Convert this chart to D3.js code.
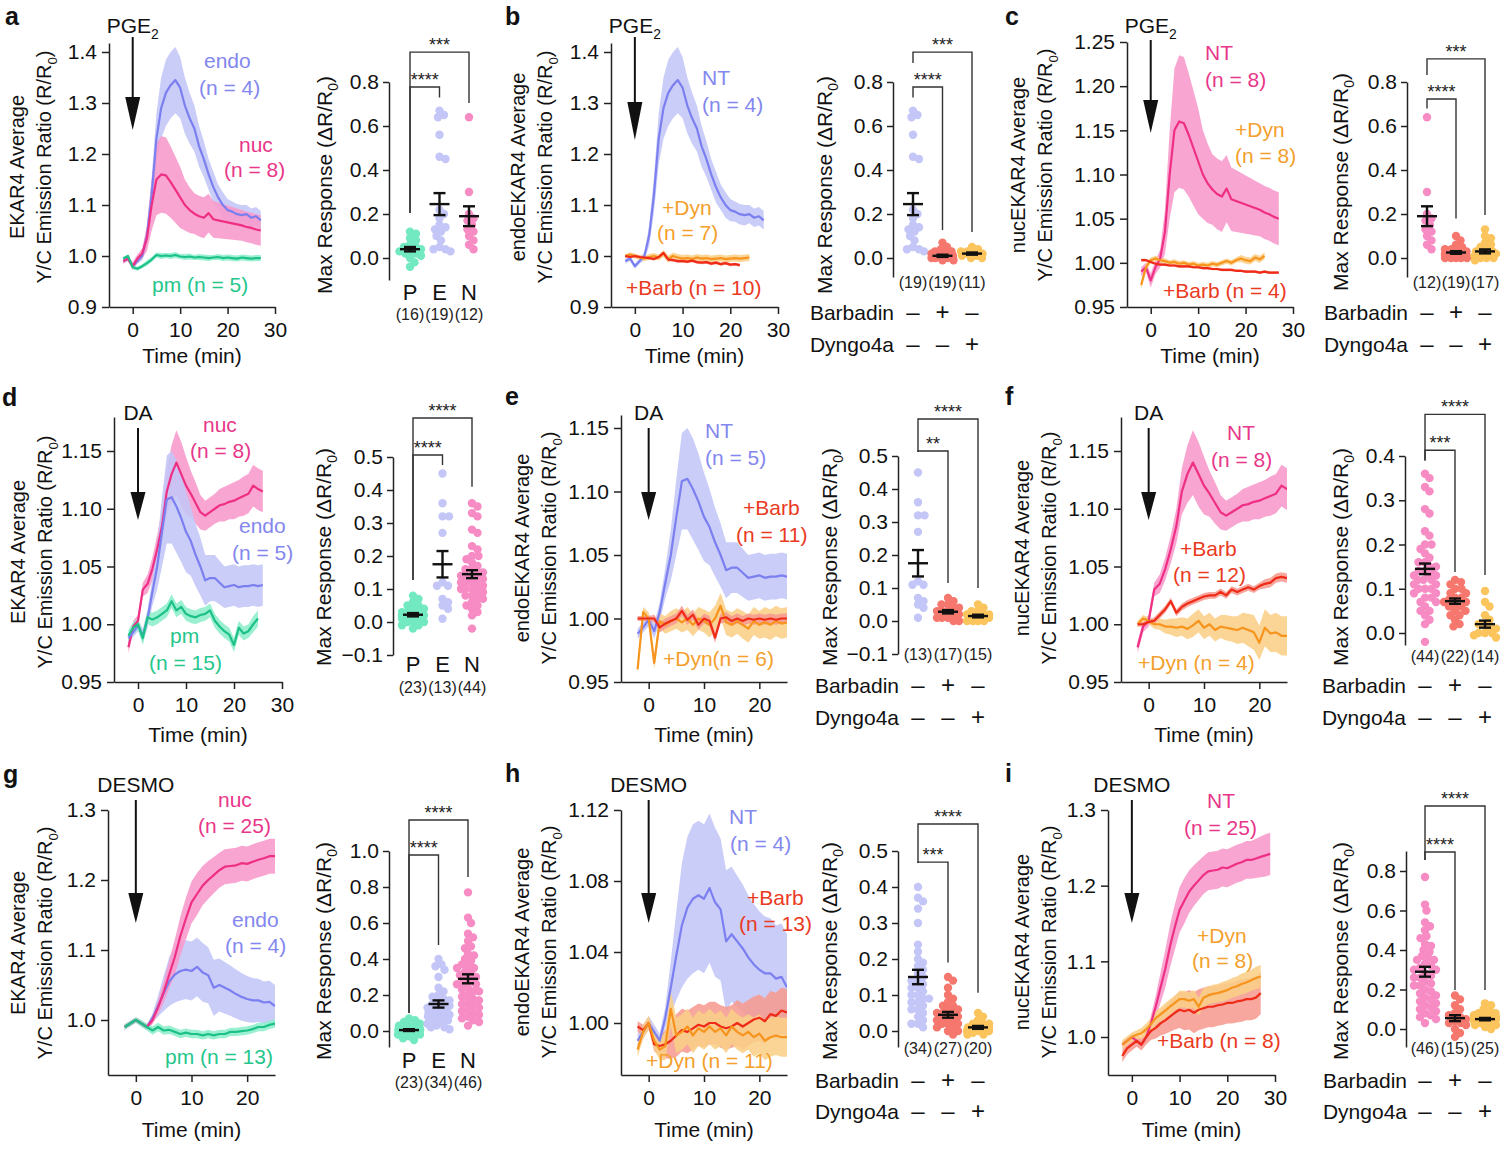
<!DOCTYPE html>
<html><head><meta charset="utf-8">
<script src="https://cdn.jsdelivr.net/npm/d3@7"></script>
<style>body{margin:0;background:#fff}</style>
</head><body>
<svg id="c" width="1500" height="1149" xmlns="http://www.w3.org/2000/svg"></svg>
<script>
// ---------------- DATA ----------------
// time axes (min)
const tPGE = [-2,-1,0,1,2,3,4,5,6,7,8,9,10,11,12,13,14,15,16,17,18,19,20,21,22,23,24,25,26,27];
const tDA = [-2,-1,0,1,2,3,4,5,6,7,8,9,10,11,12,13,14,15,16,17,18,19,20,21,22,23,24,25,26];
const tDESMO = [-2,-1,0,1,2,3,4,5,6,7,8,9,10,11,12,13,14,15,16,17,18,19,20,21,22,23,24,25,26,27,28,29];

// PGE2 time courses (mean, SEM)
const pgeEndoMean = [0.99,0.995,0.98,0.99,1.0,1.04,1.12,1.23,1.29,1.32,1.335,1.345,1.33,1.295,1.27,1.25,1.215,1.19,1.16,1.135,1.115,1.1,1.09,1.087,1.082,1.08,1.082,1.075,1.078,1.07];
const pgeEndoSem = [0.005,0.005,0.005,0.005,0.008,0.02,0.035,0.05,0.06,0.065,0.065,0.065,0.06,0.055,0.05,0.045,0.04,0.035,0.03,0.03,0.025,0.025,0.022,0.02,0.02,0.02,0.018,0.018,0.018,0.018];
const pgeNucMean = [0.99,0.995,0.98,0.995,1.005,1.035,1.1,1.15,1.16,1.158,1.145,1.13,1.115,1.1,1.09,1.083,1.078,1.075,1.084,1.072,1.07,1.068,1.066,1.064,1.062,1.06,1.057,1.055,1.052,1.05];
const pgeNucSem = [0.005,0.005,0.008,0.008,0.01,0.025,0.05,0.07,0.075,0.075,0.07,0.065,0.06,0.05,0.045,0.04,0.04,0.04,0.038,0.036,0.035,0.034,0.033,0.032,0.031,0.03,0.03,0.03,0.03,0.03];
const pgePmMean = [0.995,1.0,0.978,0.975,0.98,0.986,0.993,1.002,1.0,1.001,1.0,1.002,0.999,0.998,0.999,0.997,0.998,0.997,0.996,0.997,0.998,0.996,0.997,0.996,0.995,0.997,0.996,0.995,0.996,0.996];
const pgePmSem = [0.003,0.003,0.004,0.004,0.004,0.005,0.005,0.005,0.006,0.005,0.006,0.006,0.005,0.006,0.006,0.005,0.006,0.006,0.006,0.005,0.006,0.006,0.006,0.006,0.006,0.006,0.006,0.006,0.006,0.006];
const pgeEDynMean = [1.0,1.003,1.0,0.997,0.995,0.998,1.0,0.997,1.005,0.994,1.0,0.997,0.995,0.996,0.994,0.997,0.995,0.996,0.994,0.995,0.996,0.994,0.995,0.996,0.995,0.996,0.997];
const pgeEDynSem = [0.004,0.004,0.005,0.005,0.005,0.006,0.006,0.006,0.007,0.007,0.007,0.007,0.007,0.007,0.007,0.007,0.007,0.007,0.007,0.007,0.007,0.007,0.007,0.007,0.007,0.007,0.007];
const pgeEBarbMean = [1.0,0.998,1.0,0.998,0.997,0.996,0.994,0.998,1.006,0.993,0.992,0.99,0.99,0.989,0.991,0.988,0.987,0.988,0.985,0.987,0.984,0.986,0.983,0.984,0.982];
const pgeEBarbSem = [0.003,0.003,0.003,0.003,0.003,0.003,0.003,0.003,0.003,0.003,0.003,0.003,0.003,0.003,0.003,0.003,0.003,0.003,0.003,0.003,0.003,0.003,0.003,0.003,0.003];
const pgeNDynMean = [0.975,0.995,1.003,1.005,1.003,1.002,1.0,1.001,0.999,1.0,0.998,0.999,0.997,0.998,0.997,0.999,0.998,1.0,1.002,1.0,1.003,1.005,1.003,1.002,1.006,1.004,1.008];
const pgeNDynSem = [0.005,0.004,0.003,0.003,0.003,0.003,0.003,0.003,0.003,0.003,0.003,0.003,0.003,0.003,0.003,0.003,0.003,0.003,0.003,0.003,0.003,0.004,0.004,0.004,0.004,0.004,0.004];
const pgeNBarbMean = [1.003,1.003,1.001,0.999,0.998,0.998,0.997,0.997,0.996,0.996,0.996,0.995,0.995,0.994,0.994,0.993,0.993,0.992,0.992,0.992,0.991,0.991,0.99,0.99,0.99,0.989,0.99,0.989,0.989,0.989];
const pgeNBarbSem = [0.0015,0.0015,0.0015,0.0015,0.0015,0.0015,0.0015,0.0015,0.0015,0.0015,0.0015,0.0015,0.0015,0.0015,0.0015,0.0015,0.0015,0.0015,0.0015,0.0015,0.0015,0.0015,0.0015,0.0015,0.0015,0.0015,0.0015,0.0015,0.0015,0.0015];

// DA time courses
const daNucMean = [0.98,0.998,1.003,1.03,1.035,1.048,1.065,1.085,1.115,1.13,1.14,1.13,1.12,1.113,1.105,1.097,1.094,1.097,1.1,1.103,1.104,1.106,1.107,1.109,1.111,1.113,1.12,1.117,1.115];
const daNucSem = [0.005,0.005,0.005,0.006,0.008,0.01,0.012,0.015,0.02,0.025,0.028,0.028,0.025,0.02,0.018,0.015,0.013,0.013,0.013,0.014,0.015,0.015,0.016,0.016,0.017,0.017,0.018,0.018,0.018];
const daEndoMean = [0.988,0.993,0.999,0.99,1.005,1.028,1.05,1.08,1.108,1.11,1.102,1.092,1.08,1.072,1.06,1.05,1.038,1.04,1.04,1.036,1.032,1.033,1.034,1.032,1.033,1.033,1.034,1.033,1.034];
const daEndoSem = [0.004,0.004,0.005,0.006,0.008,0.012,0.02,0.03,0.038,0.04,0.04,0.038,0.035,0.03,0.027,0.025,0.022,0.02,0.02,0.019,0.018,0.018,0.018,0.018,0.018,0.018,0.018,0.018,0.018];
const daPmMean = [0.99,0.997,1.0,0.988,1.006,1.004,1.006,1.009,1.012,1.02,1.012,1.015,1.009,1.007,1.006,1.008,1.009,1.012,1.003,0.998,0.994,0.991,0.982,0.997,0.992,0.994,1.0,1.005];
const daPmSem = [0.005,0.005,0.005,0.006,0.006,0.006,0.006,0.006,0.006,0.006,0.006,0.006,0.006,0.006,0.006,0.006,0.006,0.006,0.006,0.006,0.006,0.006,0.006,0.006,0.006,0.006,0.007,0.007];
const daEBarbMean = [1.0,1.0,1.0,1.0,0.993,0.996,0.998,1.0,1.006,0.999,1.003,0.995,1.0,0.998,0.985,1.0,1.001,0.998,1.0,0.998,1.0,0.999,1.0,0.999,1.0,0.999,1.0,1.0];
const daEBarbSem = [0.002,0.002,0.002,0.003,0.004,0.004,0.004,0.004,0.004,0.004,0.004,0.004,0.004,0.004,0.004,0.004,0.004,0.004,0.004,0.004,0.004,0.004,0.004,0.004,0.004,0.004,0.004,0.004];
const daEDynMean = [0.96,1.005,1.0,0.965,0.998,0.995,0.998,1.0,0.997,1.0,0.995,1.0,0.998,0.995,1.0,1.01,0.997,0.995,0.998,0.995,0.992,0.998,0.995,0.997,0.995,0.998,0.996,0.997];
const daEDynSem = [0.004,0.004,0.005,0.005,0.006,0.007,0.008,0.008,0.008,0.009,0.009,0.009,0.009,0.01,0.01,0.01,0.01,0.01,0.01,0.011,0.011,0.011,0.011,0.012,0.012,0.012,0.012,0.012];
const daNBarbMean = [1.0,1.0,1.002,1.003,1.008,1.013,1.02,1.01,1.015,1.018,1.02,1.022,1.024,1.025,1.025,1.028,1.025,1.03,1.028,1.03,1.032,1.03,1.033,1.035,1.036,1.04,1.041,1.04];
const daNBarbSem = [0.002,0.002,0.002,0.003,0.003,0.003,0.003,0.003,0.003,0.003,0.003,0.003,0.003,0.003,0.003,0.003,0.003,0.003,0.003,0.003,0.003,0.003,0.003,0.004,0.004,0.004,0.004,0.004];
const daNDynMean = [1.0,1.005,1.003,1.0,1.0,0.998,0.998,0.997,0.998,0.996,0.999,1.003,0.997,1.0,0.995,0.998,0.997,0.996,0.995,0.997,0.995,0.993,0.984,0.997,0.992,0.993,0.99,0.99];
const daNDynSem = [0.003,0.003,0.003,0.004,0.005,0.006,0.007,0.008,0.008,0.009,0.01,0.01,0.01,0.01,0.01,0.01,0.011,0.011,0.012,0.013,0.014,0.015,0.015,0.016,0.016,0.017,0.017,0.017];

// DESMO time courses
const dsNucMean = [0.99,0.995,1.0,0.995,0.99,1.0,1.018,1.04,1.065,1.09,1.12,1.145,1.168,1.18,1.192,1.2,1.207,1.214,1.219,1.22,1.221,1.224,1.223,1.226,1.229,1.231,1.234,1.234,1.236,1.238,1.24,1.242];
const dsNucSem = [0.004,0.004,0.004,0.004,0.004,0.006,0.01,0.015,0.02,0.025,0.028,0.03,0.03,0.03,0.028,0.027,0.026,0.025,0.025,0.025,0.025,0.025,0.025,0.025,0.025,0.025,0.025,0.025,0.026,0.027,0.028,0.028];
const dsEndoMean = [0.99,0.995,1.0,0.995,0.99,1.003,1.02,1.038,1.055,1.065,1.07,1.072,1.07,1.076,1.068,1.064,1.046,1.05,1.046,1.042,1.037,1.033,1.03,1.028,1.028,1.025,1.026,1.02];
const dsEndoSem = [0.004,0.004,0.004,0.004,0.004,0.006,0.015,0.025,0.035,0.04,0.042,0.042,0.042,0.042,0.042,0.04,0.04,0.038,0.037,0.036,0.035,0.034,0.033,0.032,0.031,0.03,0.03,0.03];
const dsPmMean = [0.99,0.995,1.0,0.995,0.99,0.985,0.99,0.985,0.986,0.983,0.98,0.982,0.98,0.98,0.978,0.98,0.978,0.98,0.98,0.983,0.983,0.984,0.985,0.987,0.99,0.99,0.993,0.995];
const dsPmSem = [0.004,0.004,0.004,0.005,0.005,0.006,0.006,0.006,0.006,0.006,0.006,0.006,0.006,0.006,0.006,0.006,0.006,0.006,0.006,0.006,0.006,0.006,0.006,0.006,0.006,0.006,0.006,0.006];
const dsEBarbMean = [0.998,0.996,1.0,0.988,0.987,0.988,0.99,0.993,0.996,0.995,0.997,0.999,0.998,1.0,1.0,0.998,0.997,0.998,1.0,0.998,1.0,1.002,1.003,1.001,1.005,1.004,1.007,1.006];
const dsEBarbSem = [0.003,0.003,0.003,0.004,0.005,0.008,0.01,0.012,0.012,0.012,0.012,0.012,0.012,0.012,0.012,0.012,0.012,0.012,0.013,0.013,0.013,0.013,0.013,0.013,0.013,0.013,0.013,0.013];
const dsEDynMean = [0.985,0.995,1.0,0.99,0.985,0.987,1.008,0.993,0.995,0.998,0.993,0.997,0.995,0.998,0.995,0.997,0.993,0.998,0.995,0.993,0.995,0.992,0.994,0.99,0.992,0.993,0.992,0.992];
const dsEDynSem = [0.004,0.004,0.004,0.005,0.006,0.008,0.01,0.01,0.01,0.01,0.01,0.01,0.01,0.01,0.01,0.01,0.01,0.01,0.01,0.01,0.01,0.011,0.011,0.011,0.011,0.011,0.011,0.011];
const dsNDynMean = [0.99,0.995,1.0,1.003,1.005,1.01,1.017,1.025,1.03,1.035,1.04,1.045,1.05,1.05,1.048,1.05,1.04,1.052,1.055,1.057,1.058,1.06,1.062,1.065,1.067,1.07,1.072,1.075,1.078,1.08];
const dsNDynSem = [0.006,0.006,0.006,0.006,0.007,0.008,0.008,0.009,0.009,0.01,0.01,0.01,0.011,0.011,0.011,0.012,0.012,0.012,0.012,0.012,0.012,0.013,0.013,0.013,0.013,0.014,0.014,0.014,0.015,0.015];
const dsNBarbMean = [0.975,0.985,0.99,0.995,0.99,1.0,1.008,1.012,1.018,1.022,1.027,1.032,1.036,1.034,1.036,1.032,1.036,1.038,1.04,1.04,1.042,1.043,1.045,1.045,1.047,1.048,1.05,1.05,1.052,1.058];
const dsNBarbSem = [0.008,0.008,0.008,0.008,0.008,0.01,0.012,0.014,0.016,0.018,0.02,0.022,0.024,0.025,0.026,0.027,0.027,0.027,0.027,0.027,0.027,0.027,0.027,0.027,0.028,0.028,0.028,0.028,0.028,0.028];

// Max response, individual cells (ΔR/R0)
const pgeP = [0.12,0.11,0.09,0.08,0.06,0.05,0.05,0.04,0.03,0.03,0.02,0.02,0.01,0.0,-0.02,-0.04];
const pgeE = [0.67,0.65,0.64,0.56,0.46,0.45,0.22,0.2,0.18,0.15,0.14,0.13,0.12,0.1,0.08,0.05,0.04,0.04,0.03];
const pgeN = [0.64,0.3,0.2,0.18,0.17,0.15,0.13,0.12,0.1,0.08,0.06,0.04];
const pgeEBarb = [0.07,0.05,0.04,0.03,0.03,0.02,0.02,0.02,0.01,0.01,0.01,0.01,0.0,0.0,0.0,0.0,-0.01,-0.01,0.0];
const pgeEDyn = [0.05,0.04,0.03,0.03,0.02,0.02,0.02,0.01,0.01,0.0,0.0];
const pgeNBarb = [0.1,0.08,0.06,0.05,0.04,0.04,0.03,0.03,0.02,0.02,0.02,0.01,0.01,0.01,0.0,0.0,0.0,0.0,0.0];
const pgeNDyn = [0.13,0.1,0.09,0.07,0.06,0.05,0.04,0.03,0.03,0.02,0.02,0.01,0.01,0.0,0.0,0.0,-0.01];
const daP = [0.08,0.07,0.06,0.05,0.05,0.04,0.04,0.03,0.03,0.03,0.02,0.02,0.02,0.02,0.01,0.01,0.01,0.0,0.0,0.0,-0.01,-0.01,-0.02];
const daE = [0.45,0.36,0.32,0.32,0.27,0.12,0.11,0.11,0.07,0.06,0.05,0.04,0.01];
const daN = [0.36,0.35,0.33,0.32,0.28,0.27,0.23,0.22,0.2,0.2,0.19,0.18,0.17,0.16,0.16,0.15,0.15,0.14,0.14,0.14,0.13,0.13,0.13,0.12,0.12,0.12,0.11,0.11,0.1,0.1,0.1,0.09,0.09,0.08,0.08,0.07,0.07,0.06,0.05,0.05,0.04,0.03,0.02,-0.02];
const daEBarb = [0.07,0.06,0.05,0.05,0.04,0.04,0.03,0.03,0.03,0.02,0.02,0.02,0.01,0.01,0.01,0.0,0.0];
const daEDyn = [0.05,0.04,0.03,0.03,0.02,0.02,0.02,0.01,0.01,0.01,0.01,0.0,0.0,0.0,0.0];
const daNBarb = [0.12,0.115,0.11,0.1,0.1,0.09,0.09,0.08,0.08,0.075,0.07,0.07,0.065,0.06,0.06,0.05,0.05,0.04,0.04,0.03,0.02,0.015];
const daNDyn = [0.095,0.07,0.06,0.04,0.03,0.02,0.02,0.01,0.01,0.0,0.0,0.0,-0.005,-0.01];
const dsP = [0.07,0.06,0.05,0.04,0.03,0.03,0.02,0.02,0.01,0.01,0.01,0.0,0.0,0.0,0.0,-0.01,-0.01,-0.01,-0.02,-0.02,-0.03,-0.04,-0.05];
const dsE = [0.4,0.37,0.36,0.34,0.3,0.24,0.22,0.2,0.19,0.18,0.17,0.16,0.15,0.14,0.14,0.13,0.12,0.12,0.11,0.1,0.1,0.09,0.09,0.08,0.08,0.07,0.06,0.06,0.05,0.04,0.03,0.02,0.02,0.01];
const dsN = [0.77,0.63,0.6,0.54,0.52,0.5,0.47,0.46,0.43,0.42,0.4,0.39,0.37,0.36,0.35,0.35,0.33,0.32,0.31,0.3,0.3,0.28,0.27,0.26,0.26,0.24,0.23,0.22,0.22,0.2,0.19,0.18,0.17,0.16,0.15,0.14,0.13,0.12,0.11,0.1,0.09,0.08,0.07,0.06,0.05,0.03];
const dsEBarb = [0.15,0.14,0.12,0.1,0.09,0.08,0.07,0.07,0.06,0.06,0.05,0.05,0.05,0.04,0.04,0.04,0.03,0.03,0.03,0.02,0.02,0.02,0.01,0.01,0.0,0.0,-0.01];
const dsEDyn = [0.05,0.04,0.03,0.02,0.02,0.02,0.01,0.01,0.01,0.01,0.01,0.0,0.0,0.0,0.0,0.0,0.0,-0.005,-0.01,-0.01];
const dsNBarb = [0.17,0.15,0.12,0.1,0.08,0.07,0.06,0.05,0.04,0.03,0.03,0.02,0.0,-0.02,-0.04];
const dsNDyn = [0.13,0.12,0.1,0.09,0.08,0.08,0.07,0.07,0.06,0.06,0.06,0.05,0.05,0.05,0.05,0.04,0.04,0.04,0.03,0.03,0.03,0.02,0.02,0.01,0.0];
// group mean and SEM, order: P, E, N, E+Barb, E+Dyn, N+Barb, N+Dyn
const pgeStats = [[0.04,0.01],[0.245,0.05],[0.19,0.045],[0.01,0.005],[0.02,0.005],[0.025,0.006],[0.03,0.009]];
const daStats = [[0.022,0.005],[0.175,0.04],[0.145,0.012],[0.028,0.005],[0.015,0.004],[0.072,0.006],[0.02,0.008]];
const dsStats = [[0.005,0.005],[0.15,0.02],[0.29,0.025],[0.045,0.008],[0.01,0.004],[0.055,0.015],[0.05,0.006]];

// ---------------- STYLE ----------------
const FONT = '"Liberation Sans", Arial, Helvetica, sans-serif';
const C = {
  endo:{line:'#7b7fef', band:'#c3c6f7', text:'#8387ee', dot:'#c3c6f6'},
  nuc:{line:'#ee2f84', band:'#f898cb', text:'#e8378a', dot:'#f78bc3'},
  pm:{line:'#1cc187', band:'#8deecb', text:'#25c68c', dot:'#72e9c1'},
  dyn:{line:'#f7941d', band:'#fbcf87', text:'#f4a02c', dot:'#fbc45c'},
  barb:{line:'#ef2b18', band:'#f69b8f', text:'#ea3a22', dot:'#f5776d'}
};

const SERIES = {
  pgeEndo:{t:tPGE,m:pgeEndoMean,e:pgeEndoSem,c:'endo'},
  pgeNuc:{t:tPGE,m:pgeNucMean,e:pgeNucSem,c:'nuc'},
  pgePm:{t:tPGE,m:pgePmMean,e:pgePmSem,c:'pm'},
  pgeEDyn:{t:tPGE,m:pgeEDynMean,e:pgeEDynSem,c:'dyn'},
  pgeEBarb:{t:tPGE,m:pgeEBarbMean,e:pgeEBarbSem,c:'barb'},
  pgeNDyn:{t:tPGE,m:pgeNDynMean,e:pgeNDynSem,c:'dyn'},
  pgeNBarb:{t:tPGE,m:pgeNBarbMean,e:pgeNBarbSem,c:'barb'},
  daNuc:{t:tDA,m:daNucMean,e:daNucSem,c:'nuc'},
  daEndo:{t:tDA,m:daEndoMean,e:daEndoSem,c:'endo'},
  daPm:{t:tDA,m:daPmMean,e:daPmSem,c:'pm'},
  daEBarb:{t:tDA,m:daEBarbMean,e:daEBarbSem,c:'barb'},
  daEDyn:{t:tDA,m:daEDynMean,e:daEDynSem,c:'dyn'},
  daNBarb:{t:tDA,m:daNBarbMean,e:daNBarbSem,c:'barb'},
  daNDyn:{t:tDA,m:daNDynMean,e:daNDynSem,c:'dyn'},
  dsNuc:{t:tDESMO,m:dsNucMean,e:dsNucSem,c:'nuc'},
  dsEndo:{t:tDESMO,m:dsEndoMean,e:dsEndoSem,c:'endo'},
  dsPm:{t:tDESMO,m:dsPmMean,e:dsPmSem,c:'pm'},
  dsEBarb:{t:tDESMO,m:dsEBarbMean,e:dsEBarbSem,c:'barb'},
  dsEDyn:{t:tDESMO,m:dsEDynMean,e:dsEDynSem,c:'dyn'},
  dsNDyn:{t:tDESMO,m:dsNDynMean,e:dsNDynSem,c:'dyn'},
  dsNBarb:{t:tDESMO,m:dsNBarbMean,e:dsNBarbSem,c:'barb'}
};

// ---------------- LAYOUT ----------------
const LINE = [
 {id:'a', xr:[109,275], xd:[-5,30], xt:[0,10,20,30], ya:[0.9,1.4], yap:[307,52], yax:[307,43], yt:[0.9,1.0,1.1,1.2,1.3,1.4], yf:'.1f',
  series:['pgeEndo','pgeNuc','pgePm'], t1:'EKAR4 Average', tx:[24,51], ty:167, stim:['PGE','2'], sy:33, arrow:[37,97,130], timeY:363,
  labels:[['endo',204,68,'endo'],['(n = 4)',199,95,'endo'],['nuc',239,152,'nuc'],['(n = 8)',224,177,'nuc'],['pm (n = 5)',152,292,'pm']]},
 {id:'b', xr:[611,778], xd:[-5,30], xt:[0,10,20,30], ya:[0.9,1.4], yap:[307,52], yax:[307,43], yt:[0.9,1.0,1.1,1.2,1.3,1.4], yf:'.1f',
  series:['pgeEndo','pgeEDyn','pgeEBarb'], t1:'endoEKAR4 Average', tx:[525,552], ty:167, stim:['PGE','2'], sy:33, arrow:[37,102,140], timeY:363,
  labels:[['NT',702,85,'endo'],['(n = 4)',702,112,'endo'],['+Dyn',662,215,'dyn'],['(n = 7)',657,240,'dyn'],['+Barb (n = 10)',626,295,'barb']]},
 {id:'c', xr:[1127,1293], xd:[-5,30], xt:[0,10,20,30], ya:[0.95,1.25], yap:[307,42], yax:[307,42], yt:[0.95,1.0,1.05,1.1,1.15,1.2,1.25], yf:'.2f',
  series:['pgeNuc','pgeNDyn','pgeNBarb'], t1:'nucEKAR4 Average', tx:[1025,1052], ty:165, stim:['PGE','2'], sy:33, arrow:[40,100,133], timeY:363,
  labels:[['NT',1205,60,'nuc'],['(n = 8)',1205,87,'nuc'],['+Dyn',1235,137,'dyn'],['(n = 8)',1235,163,'dyn'],['+Barb (n = 4)',1163,298,'barb']]},
 {id:'d', xr:[114,282], xd:[-5,30], xt:[0,10,20,30], ya:[0.95,1.15], yap:[682,451], yax:[682,417], yt:[0.95,1.0,1.05,1.1,1.15], yf:'.2f',
  series:['daNuc','daEndo','daPm'], t1:'EKAR4 Average', tx:[25,52], ty:552, stim:['DA',''], sy:420, arrow:[428,492,520], timeY:742,
  labels:[['nuc',203,432,'nuc'],['(n = 8)',190,458,'nuc'],['endo',239,533,'endo'],['(n = 5)',232,560,'endo'],['pm',170,643,'pm'],['(n = 15)',149,670,'pm']]},
 {id:'e', xr:[621,787], xd:[-5,25], xt:[0,10,20], ya:[0.95,1.15], yap:[682,428], yax:[682,415], yt:[0.95,1.0,1.05,1.1,1.15], yf:'.2f',
  series:['daEndo','daEDyn','daEBarb'], t1:'endoEKAR4 Average', tx:[529,556], ty:548, stim:['DA',''], sy:420, arrow:[428,492,520], timeY:742,
  labels:[['NT',705,438,'endo'],['(n = 5)',705,465,'endo'],['+Barb',743,515,'barb'],['(n = 11)',736,542,'barb'],['+Dyn(n = 6)',663,666,'dyn']]},
 {id:'f', xr:[1121,1287], xd:[-5,25], xt:[0,10,20], ya:[0.95,1.15], yap:[682,451], yax:[682,417], yt:[0.95,1.0,1.05,1.1,1.15], yf:'.2f',
  series:['daNuc','daNDyn','daNBarb'], t1:'nucEKAR4 Average', tx:[1029,1056], ty:548, stim:['DA',''], sy:420, arrow:[428,492,520], timeY:742,
  labels:[['NT',1227,440,'nuc'],['(n = 8)',1211,467,'nuc'],['+Barb',1180,556,'barb'],['(n = 12)',1173,582,'barb'],['+Dyn (n = 4)',1138,670,'dyn']]},
 {id:'g', xr:[108,275], xd:[-5,25], xt:[0,10,20], ya:[1.0,1.3], yap:[1020,810], yax:[1075,810], yt:[1.0,1.1,1.2,1.3], yf:'.1f',
  series:['dsEndo','dsNuc','dsPm'], t1:'EKAR4 Average', tx:[25,52], ty:943, stim:['DESMO',''], sy:792, arrow:[800,893,923], timeY:1137,
  labels:[['nuc',218,807,'nuc'],['(n = 25)',198,833,'nuc'],['endo',232,927,'endo'],['(n = 4)',225,953,'endo'],['pm (n = 13)',165,1064,'pm']]},
 {id:'h', xr:[621,787], xd:[-5,25], xt:[0,10,20], ya:[1.0,1.12], yap:[1023,810], yax:[1075,810], yt:[1.0,1.04,1.08,1.12], yf:'.2f',
  series:['dsEndo','dsEBarb','dsEDyn'], t1:'endoEKAR4 Average', tx:[529,556], ty:942, stim:['DESMO',''], sy:792, arrow:[800,893,923], timeY:1137,
  labels:[['NT',729,824,'endo'],['(n = 4)',730,851,'endo'],['+Barb',747,905,'barb'],['(n = 13)',739,931,'barb'],['+Dyn (n = 11)',646,1068,'dyn']]},
 {id:'i', xr:[1108,1275], xd:[-5,30], xt:[0,10,20,30], ya:[1.0,1.3], yap:[1037,810], yax:[1075,810], yt:[1.0,1.1,1.2,1.3], yf:'.1f',
  series:['dsNuc','dsNBarb','dsNDyn'], t1:'nucEKAR4 Average', tx:[1029,1056], ty:942, stim:['DESMO',''], sy:792, arrow:[800,893,923], timeY:1137,
  labels:[['NT',1207,808,'nuc'],['(n = 25)',1184,835,'nuc'],['+Dyn',1197,943,'dyn'],['(n = 8)',1192,968,'dyn'],['+Barb (n = 8)',1157,1048,'barb']]}
];

const DOTS = [
 {ax:389, ya:[0,0.8], yap:[258,82], yax:[280,82], yt:[0,0.2,0.4,0.6,0.8], cx:[410,469],
  groups:[[pgeP,'pm',pgeStats[0]],[pgeE,'endo',pgeStats[1]],[pgeN,'nuc',pgeStats[2]]],
  names:['P','E','N'], namesY:300, ns:['(16)','(19)','(12)'], nsY:320, rows:null,
  br:[[0,1,0.777,0.205,0.73,'****'],[0,2,0.936,0.205,0.705,'***']], title:[332,185]},
 {ax:893, ya:[0,0.8], yap:[258,82], yax:[277,82], yt:[0,0.2,0.4,0.6,0.8], cx:[913,972],
  groups:[[pgeE,'endo',pgeStats[1]],[pgeEBarb,'barb',pgeStats[3]],[pgeEDyn,'dyn',pgeStats[4]]],
  names:null, ns:['(19)','(19)','(11)'], nsY:288, rows:[320,352],
  br:[[0,1,0.777,0.73,0.127,'****'],[0,2,0.936,0.886,0.118,'***']], title:[832,185]},
 {ax:1407, ya:[0,0.8], yap:[258,82], yax:[277,82], yt:[0,0.2,0.4,0.6,0.8], cx:[1427,1485],
  groups:[[pgeN,'nuc',pgeStats[2]],[pgeNBarb,'barb',pgeStats[5]],[pgeNDyn,'dyn',pgeStats[6]]],
  names:null, ns:['(12)','(19)','(17)'], nsY:288, rows:[320,352],
  br:[[0,1,0.723,0.68,0.18,'****'],[0,2,0.905,0.832,0.195,'***']], title:[1348,182]},
 {ax:393, ya:[0,0.5], yap:[622,457], yax:[655,457], yt:[-0.1,0,0.1,0.2,0.3,0.4,0.5], cx:[413,472],
  groups:[[daP,'pm',daStats[0]],[daE,'endo',daStats[1]],[daN,'nuc',daStats[2]]],
  names:['P','E','N'], namesY:672, ns:['(23)','(13)','(44)'], nsY:693, rows:null,
  br:[[0,1,0.506,0.127,0.476,'****'],[0,2,0.618,0.127,0.41,'****']], title:[331,557]},
 {ax:898, ya:[0,0.5], yap:[621,456], yax:[654,456], yt:[-0.1,0,0.1,0.2,0.3,0.4,0.5], cx:[918,978],
  groups:[[daE,'endo',daStats[1]],[daEBarb,'barb',daStats[3]],[daEDyn,'dyn',daStats[4]]],
  names:null, ns:['(13)','(17)','(15)'], nsY:660, rows:[693,725],
  br:[[0,1,0.515,0.512,0.115,'**'],[0,2,0.612,0.512,0.1,'****']], title:[837,557]},
 {ax:1405, ya:[0,0.4], yap:[633,456], yax:[645,456], yt:[0,0.1,0.2,0.3,0.4], cx:[1425,1485],
  groups:[[daN,'nuc',daStats[2]],[daNBarb,'barb',daStats[5]],[daNDyn,'dyn',daStats[6]]],
  names:null, ns:['(44)','(22)','(14)'], nsY:662, rows:[693,725],
  br:[[0,1,0.413,0.39,0.138,'***'],[0,2,0.494,0.39,0.131,'****']], title:[1348,557]},
 {ax:389, ya:[0,1.0], yap:[1031,851], yax:[1047,851], yt:[0,0.2,0.4,0.6,0.8,1.0], cx:[409,468],
  groups:[[dsP,'pm',dsStats[0]],[dsE,'endo',dsStats[1]],[dsN,'nuc',dsStats[2]]],
  names:['P','E','N'], namesY:1068, ns:['(23)','(34)','(46)'], nsY:1088, rows:null,
  br:[[0,1,0.978,0.1,0.478,'****'],[0,2,1.172,0.1,0.856,'****']], title:[331,951]},
 {ax:898, ya:[0,0.5], yap:[1031,851], yax:[1047,851], yt:[0,0.1,0.2,0.3,0.4,0.5], cx:[918,978],
  groups:[[dsE,'endo',dsStats[1]],[dsEBarb,'barb',dsStats[3]],[dsEDyn,'dyn',dsStats[4]]],
  names:null, ns:['(34)','(27)','(20)'], nsY:1054, rows:[1088,1119],
  br:[[0,1,0.469,0.467,0.19,'***'],[0,2,0.575,0.467,0.106,'****']], title:[837,951]},
 {ax:1406, ya:[0,0.8], yap:[1029,871], yax:[1047,851], yt:[0,0.2,0.4,0.6,0.8], cx:[1425,1485],
  groups:[[dsN,'nuc',dsStats[2]],[dsNBarb,'barb',dsStats[5]],[dsNDyn,'dyn',dsStats[6]]],
  names:null, ns:['(46)','(15)','(25)'], nsY:1054, rows:[1088,1119],
  br:[[0,1,0.896,0.856,0.197,'****'],[0,2,1.129,0.856,0.197,'****']], title:[1348,951]}
];

const LETTERS = [['a',5,25],['b',505,25],['c',1005,25],['d',2,406],['e',505,405],['f',1005,405],['g',3,783],['h',505,782],['i',1005,782]];

// ---------------- DRAW ----------------
const svg = d3.select('#c').attr('font-family', FONT);
const FS = 21;

function styleAxis(g) {
  g.attr('font-family', FONT).attr('font-size', FS);
  g.select('.domain').attr('stroke', '#222').attr('stroke-width', 1.5);
  g.selectAll('.tick line').attr('stroke', '#222').attr('stroke-width', 1.5);
  g.selectAll('.tick text').attr('fill', '#111');
}

function subText(sel, main, sub, tail, fs) {
  sel.append('tspan').text(main);
  if (sub) sel.append('tspan').attr('font-size', fs * 0.66).attr('dy', fs * 0.28).text(sub);
  if (tail) sel.append('tspan').attr('dy', -fs * 0.28).text(tail);
}

function rotTitle(x, y, main, sub, tail, fs) {
  const t = svg.append('text').attr('transform', `translate(${x},${y}) rotate(-90)`)
    .attr('text-anchor', 'middle').attr('font-size', fs).attr('fill', '#111');
  subText(t, main, sub, tail, fs);
}

function drawLine(p) {
  const x = d3.scaleLinear().domain(p.xd).range(p.xr);
  const yA = d3.scaleLinear().domain(p.ya).range(p.yap);
  const y = d3.scaleLinear().domain([yA.invert(p.yax[0]), yA.invert(p.yax[1])]).range(p.yax);
  const clipId = 'clip-' + p.id;
  svg.append('clipPath').attr('id', clipId).append('rect')
    .attr('x', p.xr[0]).attr('y', p.yax[1] - 80).attr('width', p.xr[1] - p.xr[0]).attr('height', p.yax[0] - p.yax[1] + 160);
  const plot = svg.append('g').attr('clip-path', `url(#${clipId})`);
  const ser = p.series.map(k => SERIES[k]);
  const rows = s => s.m.map((m, i) => ({t: s.t[i], m, e: s.e[i]}));
  const area = d3.area().x(d => x(d.t)).y0(d => y(d.m - d.e)).y1(d => y(d.m + d.e));
  const line = d3.line().x(d => x(d.t)).y(d => y(d.m));
  ser.forEach(s => plot.append('path').datum(rows(s)).attr('d', area).attr('fill', C[s.c].band).attr('fill-opacity', 0.88));
  ser.forEach(s => plot.append('path').datum(rows(s)).attr('d', line).attr('fill', 'none')
    .attr('stroke', C[s.c].line).attr('stroke-width', 2.2).attr('stroke-linejoin', 'round'));

  const gy = svg.append('g').attr('transform', `translate(${p.xr[0]},0)`)
    .call(d3.axisLeft(y).tickValues(p.yt).tickFormat(d3.format(p.yf)).tickSize(7).tickPadding(5).tickSizeOuter(0));
  const gx = svg.append('g').attr('transform', `translate(0,${p.yax[0]})`)
    .call(d3.axisBottom(x).tickValues(p.xt).tickFormat(d3.format('d')).tickSize(7).tickPadding(8).tickSizeOuter(0));
  styleAxis(gy); styleAxis(gx);

  svg.append('text').attr('x', (p.xr[0] + p.xr[1]) / 2).attr('y', p.timeY).attr('text-anchor', 'middle')
    .attr('font-size', FS).attr('fill', '#111').text('Time (min)');
  rotTitle(p.tx[0], p.ty, p.t1, '', '', 20);
  rotTitle(p.tx[1], p.ty, 'Y/C Emission Ratio (R/R', '0', ')', 20);

  const x0 = x(0);
  const st = svg.append('text').attr('x', x0).attr('y', p.sy).attr('text-anchor', 'middle').attr('font-size', FS).attr('fill', '#111');
  subText(st, p.stim[0], p.stim[1], '', FS);
  svg.append('line').attr('x1', x0).attr('x2', x0).attr('y1', p.arrow[0]).attr('y2', p.arrow[1] + 2)
    .attr('stroke', '#111').attr('stroke-width', 2);
  svg.append('path').attr('d', `M${x0 - 7.5},${p.arrow[1]} L${x0 + 7.5},${p.arrow[1]} L${x0},${p.arrow[2]} Z`).attr('fill', '#111');

  p.labels.forEach(([s, lx, ly, c]) => svg.append('text').attr('x', lx).attr('y', ly)
    .attr('font-size', FS).attr('fill', C[c].text).text(s));
}

// compact beeswarm: offsets limited to +-W px, overlap allowed when crowded
function swarm(vals, y, r, W) {
  const pts = vals.map(v => ({v, py: y(v), dx: 0})).sort((a, b) => b.v - a.v);
  const placed = [];
  const D = r * 1.45;
  const cands = [0];
  for (let k = 1; k <= W * 2; k++) { cands.push(k * 0.5, -k * 0.5); }
  pts.forEach(p => {
    let best = 0, bestPen = Infinity;
    for (const off of cands) {
      let pen = 0;
      for (const q of placed) {
        const dy = q.py - p.py; if (Math.abs(dy) >= D) continue;
        const dist = Math.hypot(q.dx - off, dy);
        if (dist < D) pen += D - dist;
      }
      if (pen === 0) { best = off; bestPen = 0; break; }
      if (pen < bestPen - 0.3) { bestPen = pen; best = off; }
    }
    p.dx = best;
    placed.push(p);
  });
  return pts;
}

function drawDots(p) {
  const yA = d3.scaleLinear().domain(p.ya).range(p.yap);
  const y = d3.scaleLinear().domain([yA.invert(p.yax[0]), yA.invert(p.yax[1])]).range(p.yax);
  const x = d3.scalePoint().domain([0, 1, 2]).range(p.cx);
  p.groups.forEach(([vals, col], i) => {
    const pts = swarm(vals, y, 4.2, 11);
    svg.append('g').selectAll('circle').data(pts).join('circle')
      .attr('cx', d => x(i) + d.dx).attr('cy', d => d.py).attr('r', 4.2).attr('fill', C[col].dot);
  });
  p.groups.forEach(([vals, col, st], i) => {
    const cx = x(i), m = st[0], e = st[1];
    const g = svg.append('g').attr('stroke', '#111').attr('stroke-width', 2.4).attr('fill', 'none');
    g.append('line').attr('x1', cx - 10).attr('x2', cx + 10).attr('y1', y(m)).attr('y2', y(m));
    g.append('line').attr('x1', cx).attr('x2', cx).attr('y1', y(m - e)).attr('y2', y(m + e));
    g.append('line').attr('x1', cx - 6).attr('x2', cx + 6).attr('y1', y(m - e)).attr('y2', y(m - e));
    g.append('line').attr('x1', cx - 6).attr('x2', cx + 6).attr('y1', y(m + e)).attr('y2', y(m + e));
  });
  const gy = svg.append('g').attr('transform', `translate(${p.ax},0)`)
    .call(d3.axisLeft(y).tickValues(p.yt).tickFormat(d3.format('.1f')).tickSize(6).tickPadding(4).tickSizeOuter(0));
  styleAxis(gy);

  p.br.forEach(([a, b, yb, loA, loB, s]) => {
    svg.append('path').attr('d', `M${x(a)},${y(loA)} V${y(yb)} H${x(b)} V${y(loB)}`)
      .attr('fill', 'none').attr('stroke', '#333').attr('stroke-width', 1.4);
    svg.append('text').attr('x', (x(a) + x(b)) / 2).attr('y', y(yb) - 1).attr('text-anchor', 'middle')
      .attr('font-size', 18).attr('fill', '#222').text(s);
  });

  if (p.names) p.names.forEach((n, i) => svg.append('text').attr('x', x(i)).attr('y', p.namesY)
    .attr('text-anchor', 'middle').attr('font-size', 22).attr('fill', '#111').text(n));
  p.ns.forEach((n, i) => svg.append('text').attr('x', x(i)).attr('y', p.nsY)
    .attr('text-anchor', 'middle').attr('font-size', 16).attr('fill', '#222').text(n));
  if (p.rows) {
    const signs = [['Barbadin', ['–', '+', '–']], ['Dyngo4a', ['–', '–', '+']]];
    signs.forEach(([lab, sg], r) => {
      svg.append('text').attr('x', p.ax + 1).attr('y', p.rows[r]).attr('text-anchor', 'end')
        .attr('font-size', FS).attr('fill', '#111').text(lab);
      sg.forEach((s, i) => svg.append('text').attr('x', x(i)).attr('y', p.rows[r]).attr('text-anchor', 'middle')
        .attr('font-size', 24).attr('fill', '#111').text(s));
    });
  }
  rotTitle(p.title[0], p.title[1], 'Max Response (ΔR/R', '0', ')', 21);
}

LINE.forEach(drawLine);
DOTS.forEach(drawDots);
LETTERS.forEach(([l, x, y]) => svg.append('text').attr('x', x).attr('y', y).attr('font-size', 25)
  .attr('font-weight', 'bold').attr('fill', '#111').text(l));
</script>
</body></html>
